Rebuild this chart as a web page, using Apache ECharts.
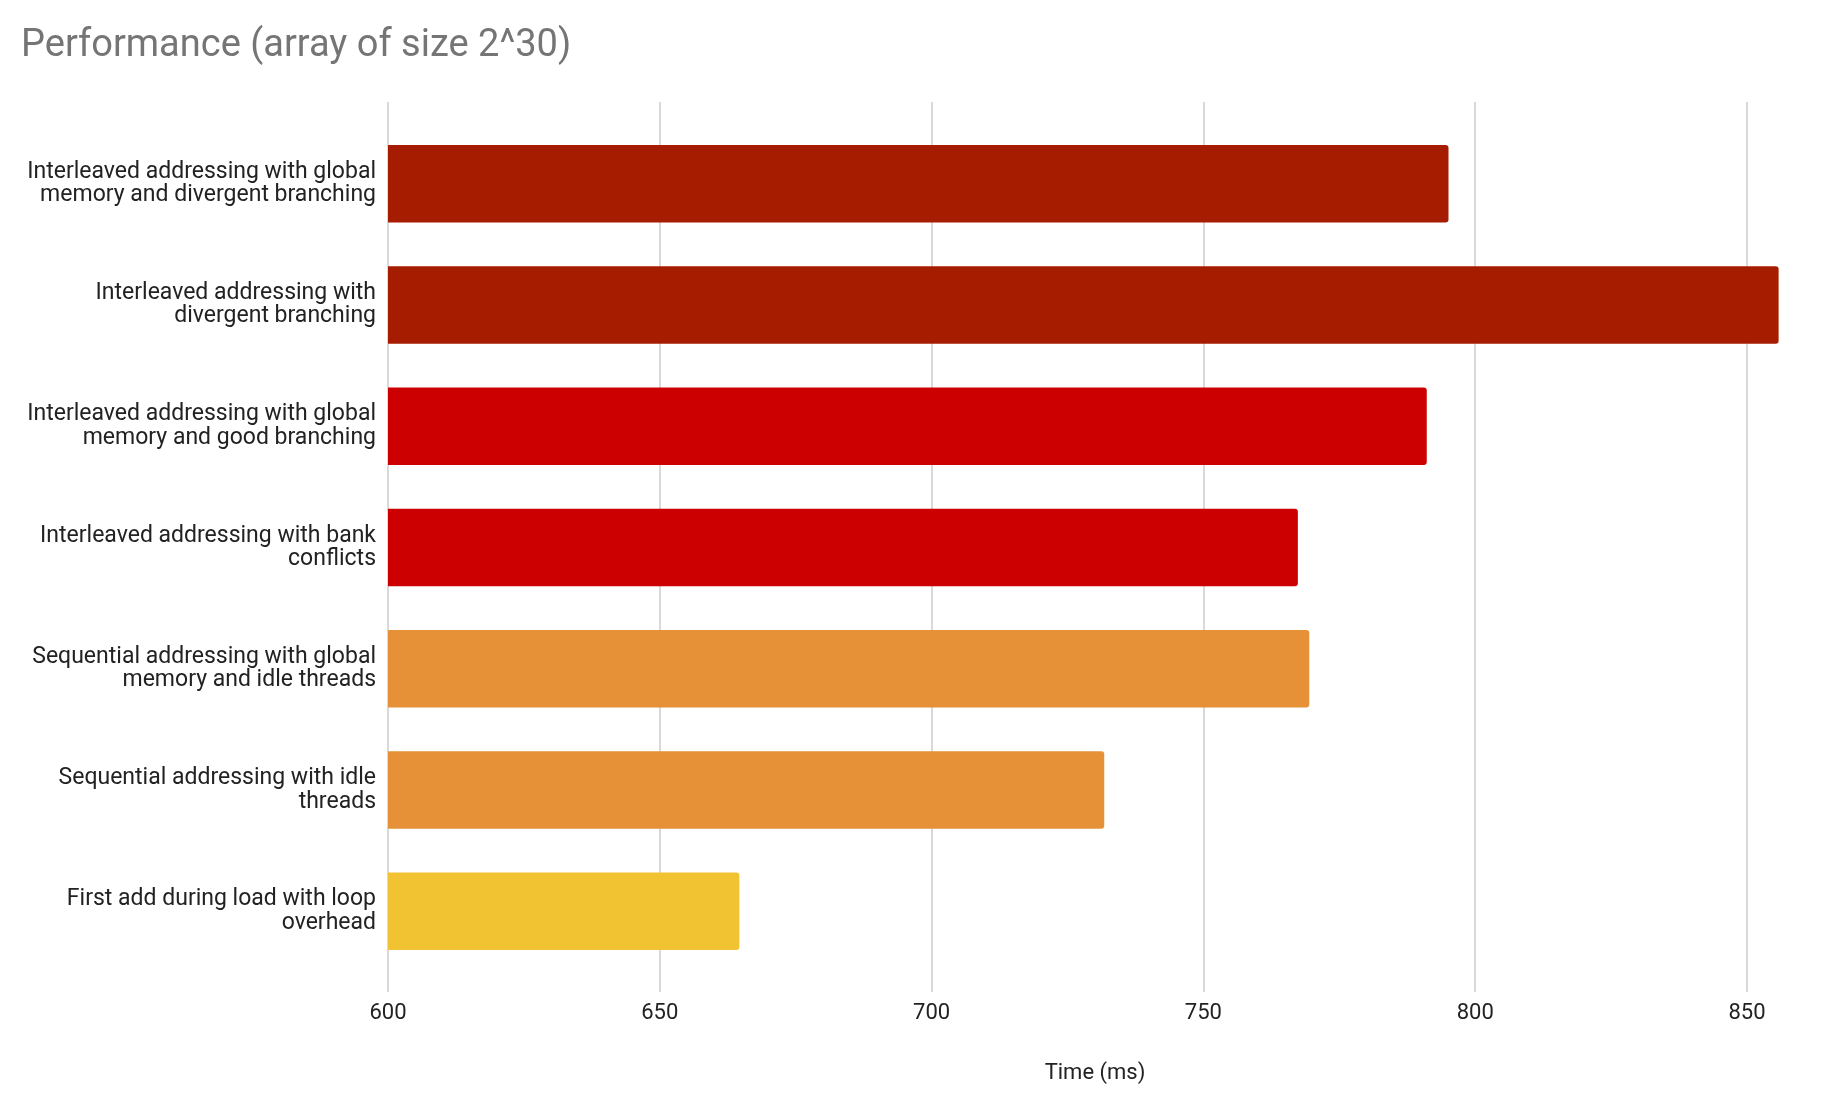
<!DOCTYPE html>
<html>
<head>
<meta charset="utf-8">
<script src="https://cdn.jsdelivr.net/npm/echarts@6/dist/echarts.min.js"></script>
<style>
html,body{margin:0;padding:0;background:#fff;}
#chart{width:1836px;height:1103px;}
</style>
</head>
<body>
<div id="chart"></div>
<script>
const titleText = 'Performance (array of size 2^30)';
const axisTitle = 'Time (ms)';
const categories = [
  'Interleaved addressing with global\nmemory and divergent branching',
  'Interleaved addressing with\ndivergent branching',
  'Interleaved addressing with global\nmemory and good branching',
  'Interleaved addressing with bank\nconflicts',
  'Sequential addressing with global\nmemory and idle threads',
  'Sequential addressing with idle\nthreads',
  'First add during load with loop\noverhead'
];
const values = [795.0, 855.7, 791.0, 767.3, 769.4, 731.7, 664.6];
const barColors = ['#a61c00', '#a61c00', '#cc0000', '#cc0000', '#e69138', '#e69138', '#f1c232'];
const tickMin = 600, tickMax = 850, tickStep = 50;
const axisMax = 860;

const chart = echarts.init(document.getElementById('chart'), null, {renderer: 'canvas'});
const font = 'Roboto';
chart.setOption({
  animation: false,
  backgroundColor: '#ffffff',
  title: {
    text: titleText,
    left: 16, top: 22,
    textStyle: {fontFamily: font, fontSize: 38, fontWeight: 'normal', color: '#757575'}
  },
  grid: [
    {left: 388, right: 34, top: 123, bottom: 131},
    {left: 388, right: 89, top: 102, bottom: 111}
  ],
  xAxis: [
    {
      type: 'value', gridIndex: 0, min: tickMin, max: axisMax,
      axisLine: {show: false}, axisTick: {show: false},
      axisLabel: {show: false}, splitLine: {show: false},
      name: axisTitle, nameLocation: 'middle', nameGap: 101,
      nameTextStyle: {fontFamily: font, fontSize: 22, color: '#222222', verticalAlign: 'middle'}
    },
    {
      type: 'value', gridIndex: 1, min: tickMin, max: tickMax, interval: tickStep,
      axisLine: {show: false}, axisTick: {show: false},
      axisLabel: {fontFamily: font, fontSize: 22, color: '#222222', margin: 10},
      splitLine: {show: true, lineStyle: {color: '#cccccc', width: 1.5}}
    }
  ],
  yAxis: [
    {
      type: 'category', gridIndex: 0, data: categories, inverse: true,
      axisLine: {show: false}, axisTick: {show: false},
      axisLabel: {fontFamily: font, fontSize: 23, lineHeight: 23.5, color: '#222222', margin: 12, align: 'right'}
    },
    {
      type: 'value', gridIndex: 1, show: false
    }
  ],
  series: [{
    type: 'bar',
    xAxisIndex: 0, yAxisIndex: 0,
    barWidth: 77.5,
    data: values.map((v, i) => ({value: v, itemStyle: {color: barColors[i]}})),
    itemStyle: {borderRadius: [0, 3, 3, 0]}
  }]
});
</script>
</body>
</html>
